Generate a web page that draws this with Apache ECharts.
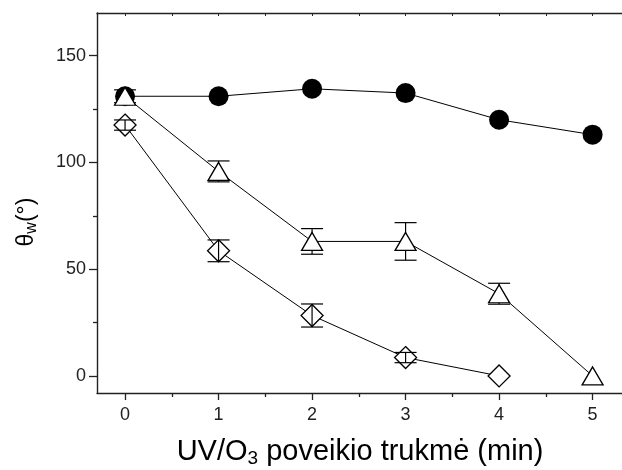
<!DOCTYPE html>
<html><head><meta charset="utf-8">
<script src="https://cdn.jsdelivr.net/npm/echarts@6/dist/echarts.min.js"></script>
<style>html,body{margin:0;padding:0;background:#fff}#c{width:622px;height:470px}</style>
</head><body><div id="c"></div>
<script>
var xValues = [0, 1, 2, 3, 4, 5];
var circleVals = [131, 131, 134.5, 132.5, 120, 113];
var triangleVals = [131, 95.8, 63, 63, 38.5, 0];
var triangleErr = [3, 4.9, 6, 8.8, 4.9, 0];
var diamondX = [0, 1, 2, 3, 4];
var diamondVals = [117.5, 58.6, 28.3, 8.6, 0];
var diamondErr = [2.4, 5.1, 5.4, 2.4, 0];
var xTicks = [0, 1, 2, 3, 4, 5];
var xMinor = [0.5, 1.5, 2.5, 3.5, 4.5];
var xTopTicks = [0, 0.5, 1, 1.5, 2, 2.5, 3, 3.5, 4, 4.5, 5];
var yTicks = [0, 50, 100, 150];
var yMinor = [25, 75, 125];

var FONT = 'Liberation Sans';
function pairs(xs, ys) { return xs.map(function (x, i) { return [x, ys[i]]; }); }
function errData(xs, ys, es) {
  var out = [];
  xs.forEach(function (x, i) { if (es[i] > 0) out.push([x, ys[i] - es[i], ys[i] + es[i]]); });
  return out;
}
function errRender(params, api) {
  var x = api.value(0), lo = api.value(1), hi = api.value(2);
  var p1 = api.coord([x, hi]), p2 = api.coord([x, lo]);
  var hw = 11;
  var st = { stroke: '#000', lineWidth: 1.2 };
  return { type: 'group', children: [
    { type: 'line', shape: { x1: p1[0], y1: p1[1], x2: p2[0], y2: p2[1] }, style: st },
    { type: 'line', shape: { x1: p1[0] - hw, y1: p1[1], x2: p1[0] + hw, y2: p1[1] }, style: st },
    { type: 'line', shape: { x1: p2[0] - hw, y1: p2[1], x2: p2[0] + hw, y2: p2[1] }, style: st }
  ]};
}
var XMIN = -0.3, XMAX = 5.4, YMIN = -8, YMAX = 170;
var axisLine = { show: true, onZero: false, lineStyle: { color: '#222', width: 1.4 } };
var noLine = { show: false, onZero: false };

var chart = echarts.init(document.getElementById('c'));
chart.setOption({
  animation: false,
  backgroundColor: '#fff',
  grid: { left: 97, top: 13, right: -8, bottom: 77, containLabel: false, outerBoundsMode: 'none' },
  xAxis: [
    { type: 'value', min: XMIN, max: XMAX, position: 'bottom', axisLine: axisLine,
      splitLine: { show: false },
      axisTick: { show: true, inside: false, length: 7, customValues: xTicks, lineStyle: { color: '#222', width: 1.3 } },
      axisLabel: { show: true, customValues: xTicks, margin: 13, fontFamily: FONT, fontSize: 18, color: '#222' } },
    { type: 'value', min: XMIN, max: XMAX, position: 'bottom', axisLine: noLine,
      splitLine: { show: false },
      axisTick: { show: true, inside: false, length: 4, customValues: xMinor, lineStyle: { color: '#222', width: 1.3 } },
      axisLabel: { show: false } },
    { type: 'value', min: XMIN, max: XMAX, position: 'top', axisLine: axisLine,
      splitLine: { show: false },
      axisTick: { show: true, inside: true, length: 3, customValues: xTopTicks, lineStyle: { color: '#222', width: 1 } },
      axisLabel: { show: false } }
  ],
  yAxis: [
    { type: 'value', min: YMIN, max: YMAX, position: 'left', axisLine: axisLine,
      splitLine: { show: false },
      axisTick: { show: true, inside: false, length: 8, customValues: yTicks, lineStyle: { color: '#222', width: 1.3 } },
      axisLabel: { show: true, customValues: yTicks, margin: 11, fontFamily: FONT, fontSize: 18, color: '#222' } },
    { type: 'value', min: YMIN, max: YMAX, position: 'left', axisLine: noLine,
      splitLine: { show: false },
      axisTick: { show: true, inside: false, length: 4, customValues: yMinor, lineStyle: { color: '#222', width: 1.3 } },
      axisLabel: { show: false } }
  ],
  series: [
    { type: 'line', data: pairs(xValues, circleVals), symbol: 'circle', symbolSize: 20,
      itemStyle: { color: '#000' }, lineStyle: { color: '#000', width: 1 }, z: 3 },
    { type: 'custom', renderItem: errRender, data: errData(xValues, triangleVals, triangleErr),
      encode: { x: 0, y: [1, 2] }, z: 2 },
    { type: 'line', data: pairs(xValues, triangleVals), symbol: 'triangle', symbolSize: [21, 18],
      itemStyle: { color: '#fff', borderColor: '#000', borderWidth: 1.3 },
      lineStyle: { color: '#000', width: 1 }, z: 4 },
    { type: 'line', data: pairs(diamondX, diamondVals), symbol: 'diamond', symbolSize: [22, 22],
      itemStyle: { color: '#fff', borderColor: '#000', borderWidth: 1.3 },
      lineStyle: { color: '#000', width: 1 }, z: 4 },
    { type: 'custom', renderItem: errRender, data: errData(diamondX, diamondVals, diamondErr),
      encode: { x: 0, y: [1, 2] }, z: 5 }
  ],
  graphic: [
    { type: 'text', x: 360, y: 452, z: 10,
      style: { text: 'UV/O{sub|3} poveikio trukmė (min)', fontFamily: FONT, fontSize: 29, fill: '#000',
        align: 'center', verticalAlign: 'middle',
        rich: { sub: { fontFamily: FONT, fontSize: 19, verticalAlign: 'bottom', padding: [13, 0, 0, 0] } } } },
    { type: 'text', x: 27, y: 222, rotation: Math.PI / 2, z: 10,
      style: { text: 'θ{sub|w}(°)', fontFamily: FONT, fontSize: 23, fill: '#000',
        align: 'center', verticalAlign: 'middle',
        rich: { sub: { fontFamily: FONT, fontSize: 16, verticalAlign: 'bottom', padding: [9, 0, 0, 0] } } } }
  ]
});
</script></body></html>
